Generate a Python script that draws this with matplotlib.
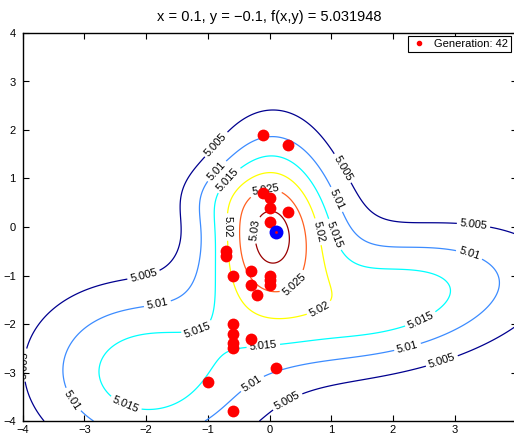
import numpy as np
import matplotlib
matplotlib.use('Agg')
import matplotlib.pyplot as plt
from matplotlib.lines import Line2D

plt.rcParams['font.family'] = ['Liberation Sans', 'DejaVu Sans']

# fitness surface: 5 plus a sum of rotated gaussian bumps
bump_amp = [0.02226, 0.01722, 0.01840, 0.00928, 0.00418]
bump_cx = [-0.010, -2.063, 1.838, 0.132, -0.924]
bump_cy = [0.246, -3.056, -1.543, -0.363, 0.640]
bump_sx = [0.658, 1.255, 1.758, 0.740, 0.501]
bump_sy = [1.249, 1.167, 0.913, 0.988, 0.500]
bump_rot = [-0.038, -0.762, 0.283, -0.610, 0.287]
base_level = 5.0

levels = [5.005, 5.01, 5.015, 5.02, 5.025, 5.03]
level_colors = ['#00008F', '#3C8CFF', '#00FFFF', '#FFFF00', '#FF6020', '#990000']

# population of generation 42
pop_x = [-0.1, 0.3, -0.1, 0.0, 0.0, 0.3, 0.0, 0.1, -0.7, -0.7, -0.6, -0.3, -0.3, -0.2, 0.0, 0.0, 0.0,
         -0.6, -0.6, -0.6, -0.6, -0.3, -1.0, 0.1, -0.6]
pop_y = [1.9, 1.7, 0.7, 0.6, 0.4, 0.3, 0.1, -0.1, -0.5, -0.6, -1.0, -0.9, -1.2, -1.4, -1.0, -1.1, -1.2,
         -2.0, -2.2, -2.4, -2.5, -2.3, -3.2, -2.9, -3.8]
best_x, best_y, best_f = 0.1, -0.1, 5.031948
generation = 42

# where the contour labels sit
label_spots = [(-0.89, 1.73), (1.14, 1.18), (-2.04, -1.0), (3.3, 0.0), (-3.9, -2.85), (2.8, -2.8), (0.29, -3.6),
               (-0.82, 1.11), (1.07, 0.56), (3.23, -0.58), (-1.82, -1.57), (-3.2, -3.57), (-0.26, -3.27),
               (2.24, -2.5), (-0.65, 0.95), (1.02, -0.17), (-1.17, -2.09), (-2.34, -3.68), (-0.1, -2.48),
               (2.45, -1.92), (-0.68, 0.0), (0.78, -0.1), (0.8, -1.67), (-0.06, 0.72), (0.42, -1.2),
               (-0.23, -0.06)]


def surface(x, y):
    z = np.full_like(x, base_level)
    for a, cx, cy, sx, sy, t in zip(bump_amp, bump_cx, bump_cy, bump_sx, bump_sy, bump_rot):
        dx, dy = x - cx, y - cy
        u = np.cos(t) * dx + np.sin(t) * dy
        v = -np.sin(t) * dx + np.cos(t) * dy
        z = z + a * np.exp(-0.5 * (u ** 2 / sx ** 2 + v ** 2 / sy ** 2))
    return z


grid = np.linspace(-4, 4, 401)
X, Y = np.meshgrid(grid, grid)
Z = surface(X, Y)

fig = plt.figure(figsize=(5.14, 4.4), dpi=100)
ax = fig.add_axes([22.7 / 514, 19 / 440, 493.8 / 514, 388 / 440])

cs = ax.contour(X, Y, Z, levels=levels, colors=level_colors, linewidths=0.9)
ax.clabel(cs, fmt='%g', fontsize=8, inline=True, inline_spacing=3, colors='black', manual=label_spots)

ax.plot(pop_x, pop_y, 'o', color='#FF0000', markersize=8.5, markeredgewidth=0, zorder=4)
ax.plot(best_x, best_y, 'o', color='#0000FF', markersize=10, markeredgewidth=0, zorder=5)
ax.plot(best_x, best_y, 'o', color='#FF0000', markersize=2, markeredgewidth=0, zorder=6)

ax.set_xlim(-4, 4)
ax.set_ylim(-4, 4)
ax.set_xticks(range(-4, 4))
ax.set_yticks(range(-4, 5))
ax.tick_params(direction='in', top=True, right=True, length=4, width=0.8, labelsize=8, pad=3)
ax.tick_params(axis='y', pad=5)
for sp in ax.spines.values():
    sp.set_linewidth(1.0)

ax.set_title('x = %.1f, y = \u2212%.1f, f(x,y) = %.6f' % (best_x, -best_y, best_f), fontsize=10.5, pad=9)

handle = Line2D([], [], ls='none', marker='o', color='#FF0000', markersize=3)
leg = ax.legend([handle], ['Generation: %d' % generation], loc='upper right', fontsize=8,
                bbox_to_anchor=(511 / 514, 1 - 36 / 440), bbox_transform=fig.transFigure,
                fancybox=False, framealpha=1, edgecolor='black', borderpad=0.25,
                handlelength=1.5, handletextpad=0.6, borderaxespad=0)
leg.get_frame().set_linewidth(0.8)

fig.savefig('out.png', dpi=100)
